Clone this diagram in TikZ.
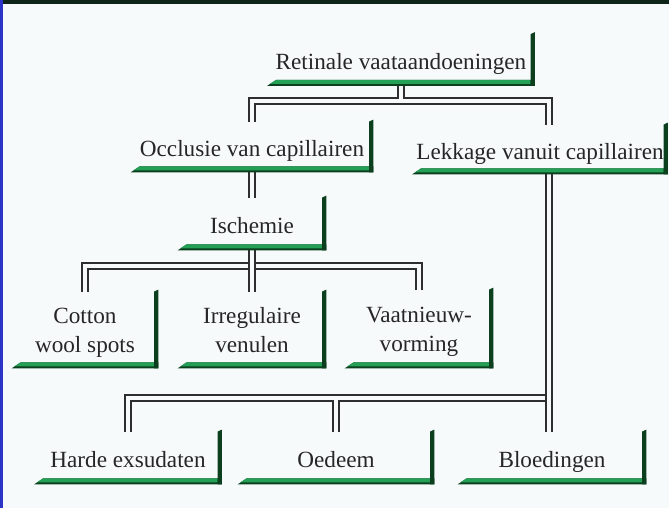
\documentclass[tikz,border=0pt]{standalone}
\usepackage{fontspec}
\setmainfont{Liberation Serif}
\definecolor{paper}{HTML}{F7FAFB}
\definecolor{barlight}{HTML}{23A055}
\definecolor{bardark}{HTML}{0B3F1E}
\definecolor{wire}{HTML}{2E2E2E}
\definecolor{topband}{HTML}{0F2418}
\definecolor{edge}{HTML}{2B34C4}
\newcommand{\lift}{\rule{0pt}{11pt}}
\newcommand{\drop}{\rule[-3pt]{0pt}{3pt}}

\begin{document}
\begin{tikzpicture}[x=0.5pt, y=-0.5pt,
  box/.style = {inner sep=0pt, align=center, text=black!85, font=\fontsize{11.6}{14.2}\selectfont},
  one/.style = {box, text height=11.5pt, text depth=2pt},
  two/.style = {box},
  link/.style = {draw=wire, line width=0.85pt, double=paper, double distance=2.1pt}]
\useasboundingbox (0,0) rectangle (669,508);
\fill[paper] (0,0) rectangle (669,508);
\fill[topband] (0,0) rectangle (669,4);
\fill[edge] (0,0) rectangle (2.5,508);

\node[one, minimum width=133.5pt, minimum height=25.5pt] (1) at (401,60) {Retinale vaataandoeningen};
\node[one, minimum width=121pt, minimum height=25pt] (2) at (252,147) {Occlusie van capillairen};
\node[one, minimum width=127.5pt, minimum height=24.5pt] (3) at (540,149.5) {Lekkage vanuit capillairen};
\node[one, minimum width=74pt, minimum height=26pt] (4) at (252,224) {Ischemie};
\node[two, minimum width=73pt, minimum height=38pt] (5) at (85,330) {\lift Cotton\\wool spots\drop};
\node[two, minimum width=74pt, minimum height=38pt] (6) at (252,330) {\lift Irregulaire\\venulen\drop};
\node[two, minimum width=74pt, minimum height=39pt] (7) at (419,329) {\lift Vaatnieuw-\\vorming\drop};
\node[one, minimum width=93.5pt, minimum height=26pt] (8) at (128,458) {Harde exsudaten};
\node[one, minimum width=98pt, minimum height=26pt] (9) at (336,458) {Oedeem};
\node[one, minimum width=94pt, minimum height=26pt] (10) at (552,458) {Bloedingen};

% connectors
\coordinate (a) at (401,99);
\coordinate (b) at (549,101);
\draw[link] (2.north) |- (b) -- (b |- 3.north);
\draw[link] (1.south) -- (a);
\draw[link] (2.south) -- (4.north);
\coordinate (c) at (252,266);
\draw[link] (5.north) |- (c) -| (7.north);
\draw[link] (4.south) -- (6.north);
\coordinate (d) at (549,398);
\coordinate (e) at (338,400);
\draw[link] (8.north) |- (d);
\draw[link] (9.north |- e) -- (9.north);
\draw[link] (d |- 3.south) -- (d |- 10.north);

% green frames
\foreach \n in {1,...,10} {
  \fill[bardark] (\n.south west) -- ([xshift=4.5pt,yshift=3pt]\n.south west) -- ([yshift=3pt]\n.south east) -- (\n.south east) -- cycle;
  \fill[barlight] ([xshift=4.5pt,yshift=3pt]\n.south west) -- ([xshift=1.4pt,yshift=1pt]\n.south west) -- ([xshift=-2.2pt,yshift=1pt]\n.south east) -- ([xshift=-2.2pt,yshift=3pt]\n.south east) -- cycle;
  \fill[bardark] ([xshift=-2.2pt]\n.north east) -- ([yshift=1pt]\n.north east) -- (\n.south east) -- ([xshift=-2.2pt]\n.south east) -- cycle;
}
\end{tikzpicture}
\end{document}
